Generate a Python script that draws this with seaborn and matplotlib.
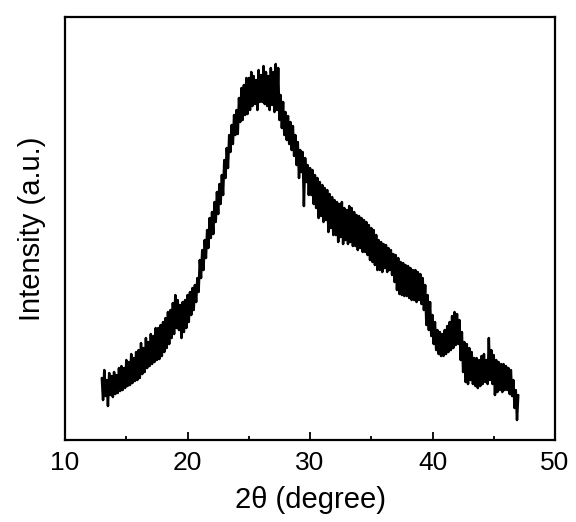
import numpy as np
import pandas as pd
import matplotlib
matplotlib.use("Agg")
import matplotlib.pyplot as plt
import seaborn as sns
from matplotlib.ticker import MultipleLocator

# XRD scan: 2theta from 13.0 to 47.0, step 0.1 (a.u.)
two_theta_start = 13.0
two_theta_step = 0.1
intensity = [
    62, 40, 70, 44, 60, 34, 67, 45, 64, 43,          # 13
    68, 46, 65, 47, 72, 49, 74, 50, 72, 52,          # 14
    80, 54, 78, 55, 86, 57, 82, 59, 88, 60,          # 15
    90, 62, 97, 66, 92, 68, 102, 72, 98, 74,         # 16
    106, 76, 104, 78, 112, 80, 112, 81, 115, 84,     # 17
    118, 88, 122, 92, 128, 96, 130, 102, 137, 106,   # 18
    145, 112, 140, 110, 135, 102, 138, 108, 140, 112,  # 19
    145, 118, 148, 125, 152, 130, 155, 138, 162, 148,  # 20
    180, 162, 190, 170, 200, 182, 210, 192, 222, 202,  # 21
    228, 206, 238, 218, 248, 226, 256, 236, 265, 245,  # 22
    280, 262, 292, 272, 305, 288, 315, 296, 325, 305,  # 23
    330, 306, 342, 318, 352, 320, 355, 325, 362, 326,  # 24
    362, 330, 368, 334, 364, 336, 360, 330, 370, 338,  # 25
    365, 338, 374, 336, 368, 334, 364, 330, 372, 335,  # 26
    368, 328, 376, 330, 372, 320, 345, 312, 338, 305,  # 27
    328, 300, 324, 296, 318, 290, 314, 284, 305, 275,  # 28
    298, 262, 290, 268, 288, 234, 282, 258, 275, 245,  # 29
    272, 245, 270, 236, 265, 232, 262, 222, 258, 224,  # 30
    255, 218, 252, 220, 250, 208, 246, 212, 243, 205,  # 31
    240, 205, 238, 198, 236, 203, 238, 196, 232, 200,  # 32
    230, 196, 234, 198, 232, 194, 228, 194, 225, 190,  # 33
    224, 192, 222, 188, 220, 188, 218, 185, 215, 180,  # 34
    212, 178, 210, 175, 205, 170, 200, 170, 198, 168,  # 35
    196, 172, 195, 168, 192, 170, 190, 165, 186, 158,  # 36
    185, 150, 182, 146, 178, 145, 177, 144, 175, 144,  # 37
    174, 142, 172, 140, 170, 140, 170, 138, 168, 140,  # 38
    166, 136, 162, 130, 155, 115, 145, 110, 138, 104,  # 39
    125, 96, 118, 90, 110, 86, 108, 84, 106, 84,     # 40
    110, 86, 114, 88, 118, 90, 124, 92, 128, 95,     # 41
    126, 96, 120, 80, 108, 68, 98, 58, 96, 56,       # 42
    92, 60, 88, 56, 82, 54, 82, 52, 80, 54,          # 43
    84, 56, 86, 58, 80, 56, 102, 60, 90, 56,         # 44
    85, 45, 80, 48, 78, 50, 76, 48, 76, 50,          # 45
    74, 50, 72, 46, 70, 44, 60, 32, 50, 20,          # 46
    45,                                               # 47
]
two_theta = two_theta_start + two_theta_step * np.arange(len(intensity))
df = pd.DataFrame({"two_theta": two_theta, "intensity": intensity})

sns.set_style("ticks")
plt.rcParams['font.family'] = ['Liberation Sans', 'DejaVu Sans']
plt.rcParams['text.color'] = 'black'
plt.rcParams['axes.labelcolor'] = 'black'
plt.rcParams['xtick.color'] = 'black'

fig = plt.figure(figsize=(5.76, 5.22), dpi=100)
ax = fig.add_axes([0.113, 0.157, 0.8505, 0.8104])

sns.lineplot(data=df, x="two_theta", y="intensity", color="black",
             linewidth=1.8, ax=ax, sort=False)

ax.set_xlim(10, 50)
ax.set_ylim(0, 423)
ax.xaxis.set_major_locator(MultipleLocator(10))
ax.xaxis.set_minor_locator(MultipleLocator(5))
ax.tick_params(axis="x", which="major", direction="in", length=6, width=1.3,
               labelsize=19, pad=8, colors="black")
ax.tick_params(axis="x", which="minor", direction="in", length=3, width=1.3,
               colors="black")
ax.set_yticks([])
for s in ax.spines.values():
    s.set_linewidth(1.6)
    s.set_color("black")
    s.set_visible(True)

ax.set_xlabel("2θ (degree)", fontsize=21, labelpad=8)
ax.set_ylabel("Intensity (a.u.)", fontsize=21, labelpad=14)

fig.savefig("out.png", dpi=100)
